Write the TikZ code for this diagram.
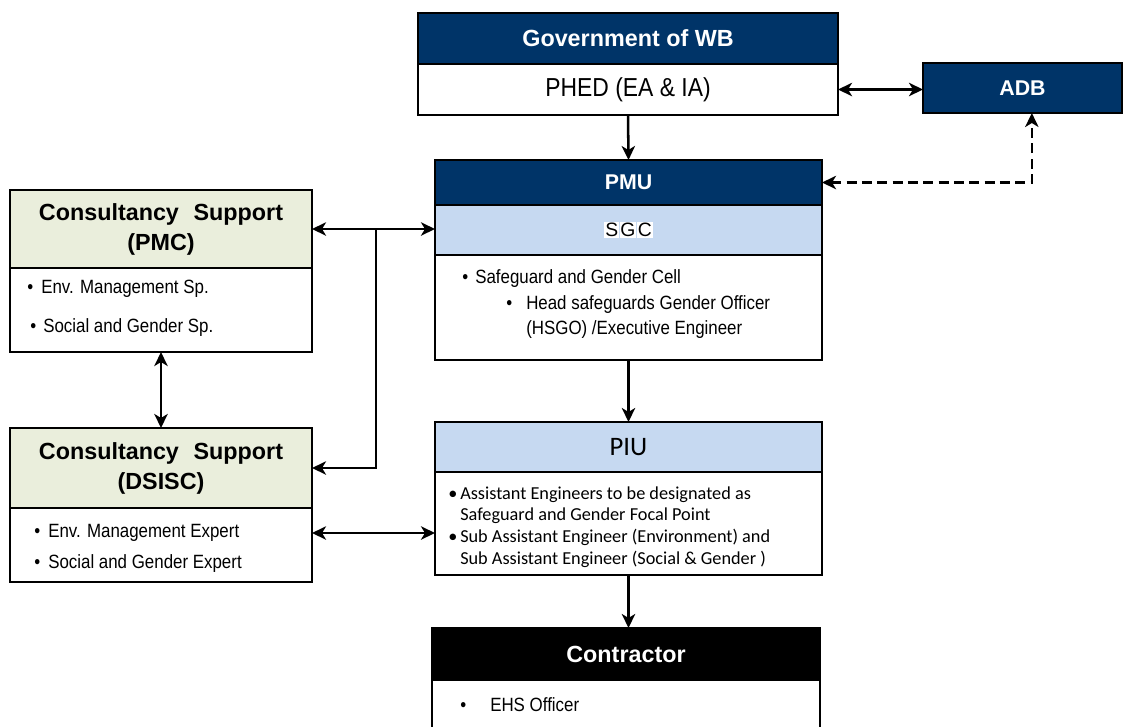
\documentclass[tikz,border=0pt]{standalone}
\usepackage{fontspec}
\setmainfont{Liberation Sans}
\newfontfamily\narrowfont[FakeStretch=0.88]{Liberation Sans}
\newfontfamily\calibrifont{Carlito}
\usetikzlibrary{arrows.meta,positioning}

\newlength\pxu
\setlength\pxu{0.75pt}
\definecolor{navy}{RGB}{0,52,104}
\definecolor{sgcblue}{RGB}{198,217,241}
\definecolor{sage}{RGB}{234,238,220}
\newcommand{\bul}[1][14]{\makebox[#1\pxu][l]{\textbullet}}

\tikzset{
  orgbox/.style={draw=black, line width=1.9pt, rectangle, inner sep=0pt, outer sep=0pt,
    anchor=north west, align=center},
  headnavy/.style={orgbox, fill=navy, text=white, font=\fontsize{17.5}{21}\selectfont\bfseries},
  headblack/.style={orgbox, fill=black, text=white, font=\fontsize{17.5}{21}\selectfont\bfseries},
  headsage/.style={orgbox, fill=sage, font=\fontsize{17.5}{22.5}\selectfont\bfseries},
  headblue/.style={orgbox, fill=sgcblue},
  bodybox/.style={orgbox, fill=white},
  bullettext/.style={anchor=west, inner sep=0pt, font=\narrowfont\fontsize{14.4}{17}\selectfont},
  twoway/.style={line width=1.9pt, {Stealth[length=10.5pt,width=10pt,inset=3pt]}-{Stealth[length=10.5pt,width=10pt,inset=3pt]}},
  oneway/.style={line width=1.9pt, -{Stealth[length=10.5pt,width=10pt,inset=3pt]}},
}

\begin{document}
\begin{tikzpicture}[x=0.75pt, y=-0.75pt]
	\useasboundingbox (0,0) rectangle (1124,726);
	\clip (0,0) rectangle (1124,726);
	% executing agency and ADB
	\node[headnavy, minimum width=420\pxu, minimum height=51\pxu] (gov) at (418,13) {Government of WB};
	\node[bodybox, minimum width=420\pxu, minimum height=51\pxu, font=\narrowfont\fontsize{19.5}{23}\selectfont, below=0pt of gov] (phed) {PHED (EA \& IA)};
	\node[headnavy, minimum width=199\pxu, minimum height=50\pxu, font=\fontsize{16}{19}\selectfont\bfseries] (adb) at (923,63) {ADB};

	% PMU
	\node[headnavy, minimum width=387\pxu, minimum height=45\pxu, font=\fontsize{16}{19}\selectfont\bfseries] (pmu) at (435,160) {PMU};
	\node[headblue, minimum width=387\pxu, minimum height=50\pxu, font=\fontsize{14.5}{17}\selectfont, below=0pt of pmu] (sgc)
		{{\fboxsep=0.6pt\colorbox{white}{S}\kern0.5pt\colorbox{white}{G}\kern0.5pt\colorbox{white}{C}}};
	\node[bodybox, minimum width=387\pxu, minimum height=105\pxu, below=0pt of sgc] (pmubody) {};
	\node[bullettext] (pmu1) at (462,279) {\bul[13]Safeguard and Gender Cell};
	\node[bullettext] (pmu2) at (506,305) {\bul[20]Head safeguards Gender Officer};
	\node[bullettext] (pmu3) at (526,330) {(HSGO) /Executive Engineer};

	% consultants
	\node[headsage, minimum width=302\pxu, minimum height=78\pxu] (pmc) at (10,190) {Consultancy\hspace{11pt}Support\\(PMC)};
	\node[bodybox, minimum width=302\pxu, minimum height=84\pxu, below=0pt of pmc] (pmcbody) {};
	\node[bullettext] (pmc1) at (27,289) {\bul Env. Management Sp.};
	\node[bullettext] (pmc2) at (30,328) {\bul[13]Social and Gender Sp.};

	\node[headsage, minimum width=302\pxu, minimum height=80\pxu] (dsisc) at (10,428) {Consultancy\hspace{11pt}Support\\(DSISC)};
	\node[bodybox, minimum width=302\pxu, minimum height=74\pxu, below=0pt of dsisc] (dsiscbody) {};
	\node[bullettext] (dsisc1) at (34,533) {\bul Env. Management Expert};
	\node[bullettext] (dsisc2) at (34,564) {\bul Social and Gender Expert};

	% PIU
	\node[headblue, minimum width=387\pxu, minimum height=50\pxu, font=\calibrifont\fontsize{20}{24}\selectfont] (piu) at (435,422) {PIU};
	\node[bodybox, minimum width=387\pxu, minimum height=103\pxu, below=0pt of piu] (piubody) {};
	\node[bullettext, font=\calibrifont\fontsize{13.7}{16}\selectfont] (piu1) at (448,495) {\bul[12]Assistant Engineers to be designated as};
	\node[bullettext, font=\calibrifont\fontsize{13.7}{16}\selectfont] (piu2) at (460,516) {Safeguard and Gender Focal Point};
	\node[bullettext, font=\calibrifont\fontsize{13.7}{16}\selectfont] (piu3) at (448,537) {\bul[12]Sub Assistant Engineer (Environment) and};
	\node[bullettext, font=\calibrifont\fontsize{13.7}{16}\selectfont] (piu4) at (460,559) {Sub Assistant Engineer (Social \& Gender )};

	% contractor
	\node[headblack, minimum width=388\pxu, minimum height=52\pxu] (contr) at (432,628) {Contractor};
	\node[bodybox, minimum width=388\pxu, minimum height=70\pxu, below=0pt of contr] (contrbody) {};
	\node[bullettext] (contr1) at (460,705) {\bul[30]EHS Officer};

	% connectors
	\draw[twoway] (phed.east) -- (phed.east -| adb.west);
	\draw[oneway] (phed.south) -- (pmu.north);
	\draw[twoway, dashed, dash pattern=on 7.5pt off 4pt] (pmu.east) -| ([xshift=7pt]adb.south);
	\draw[twoway] (pmc.east) -- (pmc.east -| sgc.west);
	\coordinate (branch) at (376,229);
	\draw[oneway] (branch) |- (dsisc.east);
	\draw[twoway] (pmcbody.south) -- (dsisc.north);
	\draw[twoway] ([yshift=9pt]dsiscbody.east) -- ([yshift=9pt]dsiscbody.east -| piubody.west);
	\draw[oneway] (pmubody.south) -- (piu.north);
	\draw[oneway] (piubody.south) -- (piubody.south |- contr.north);
\end{tikzpicture}
\end{document}
